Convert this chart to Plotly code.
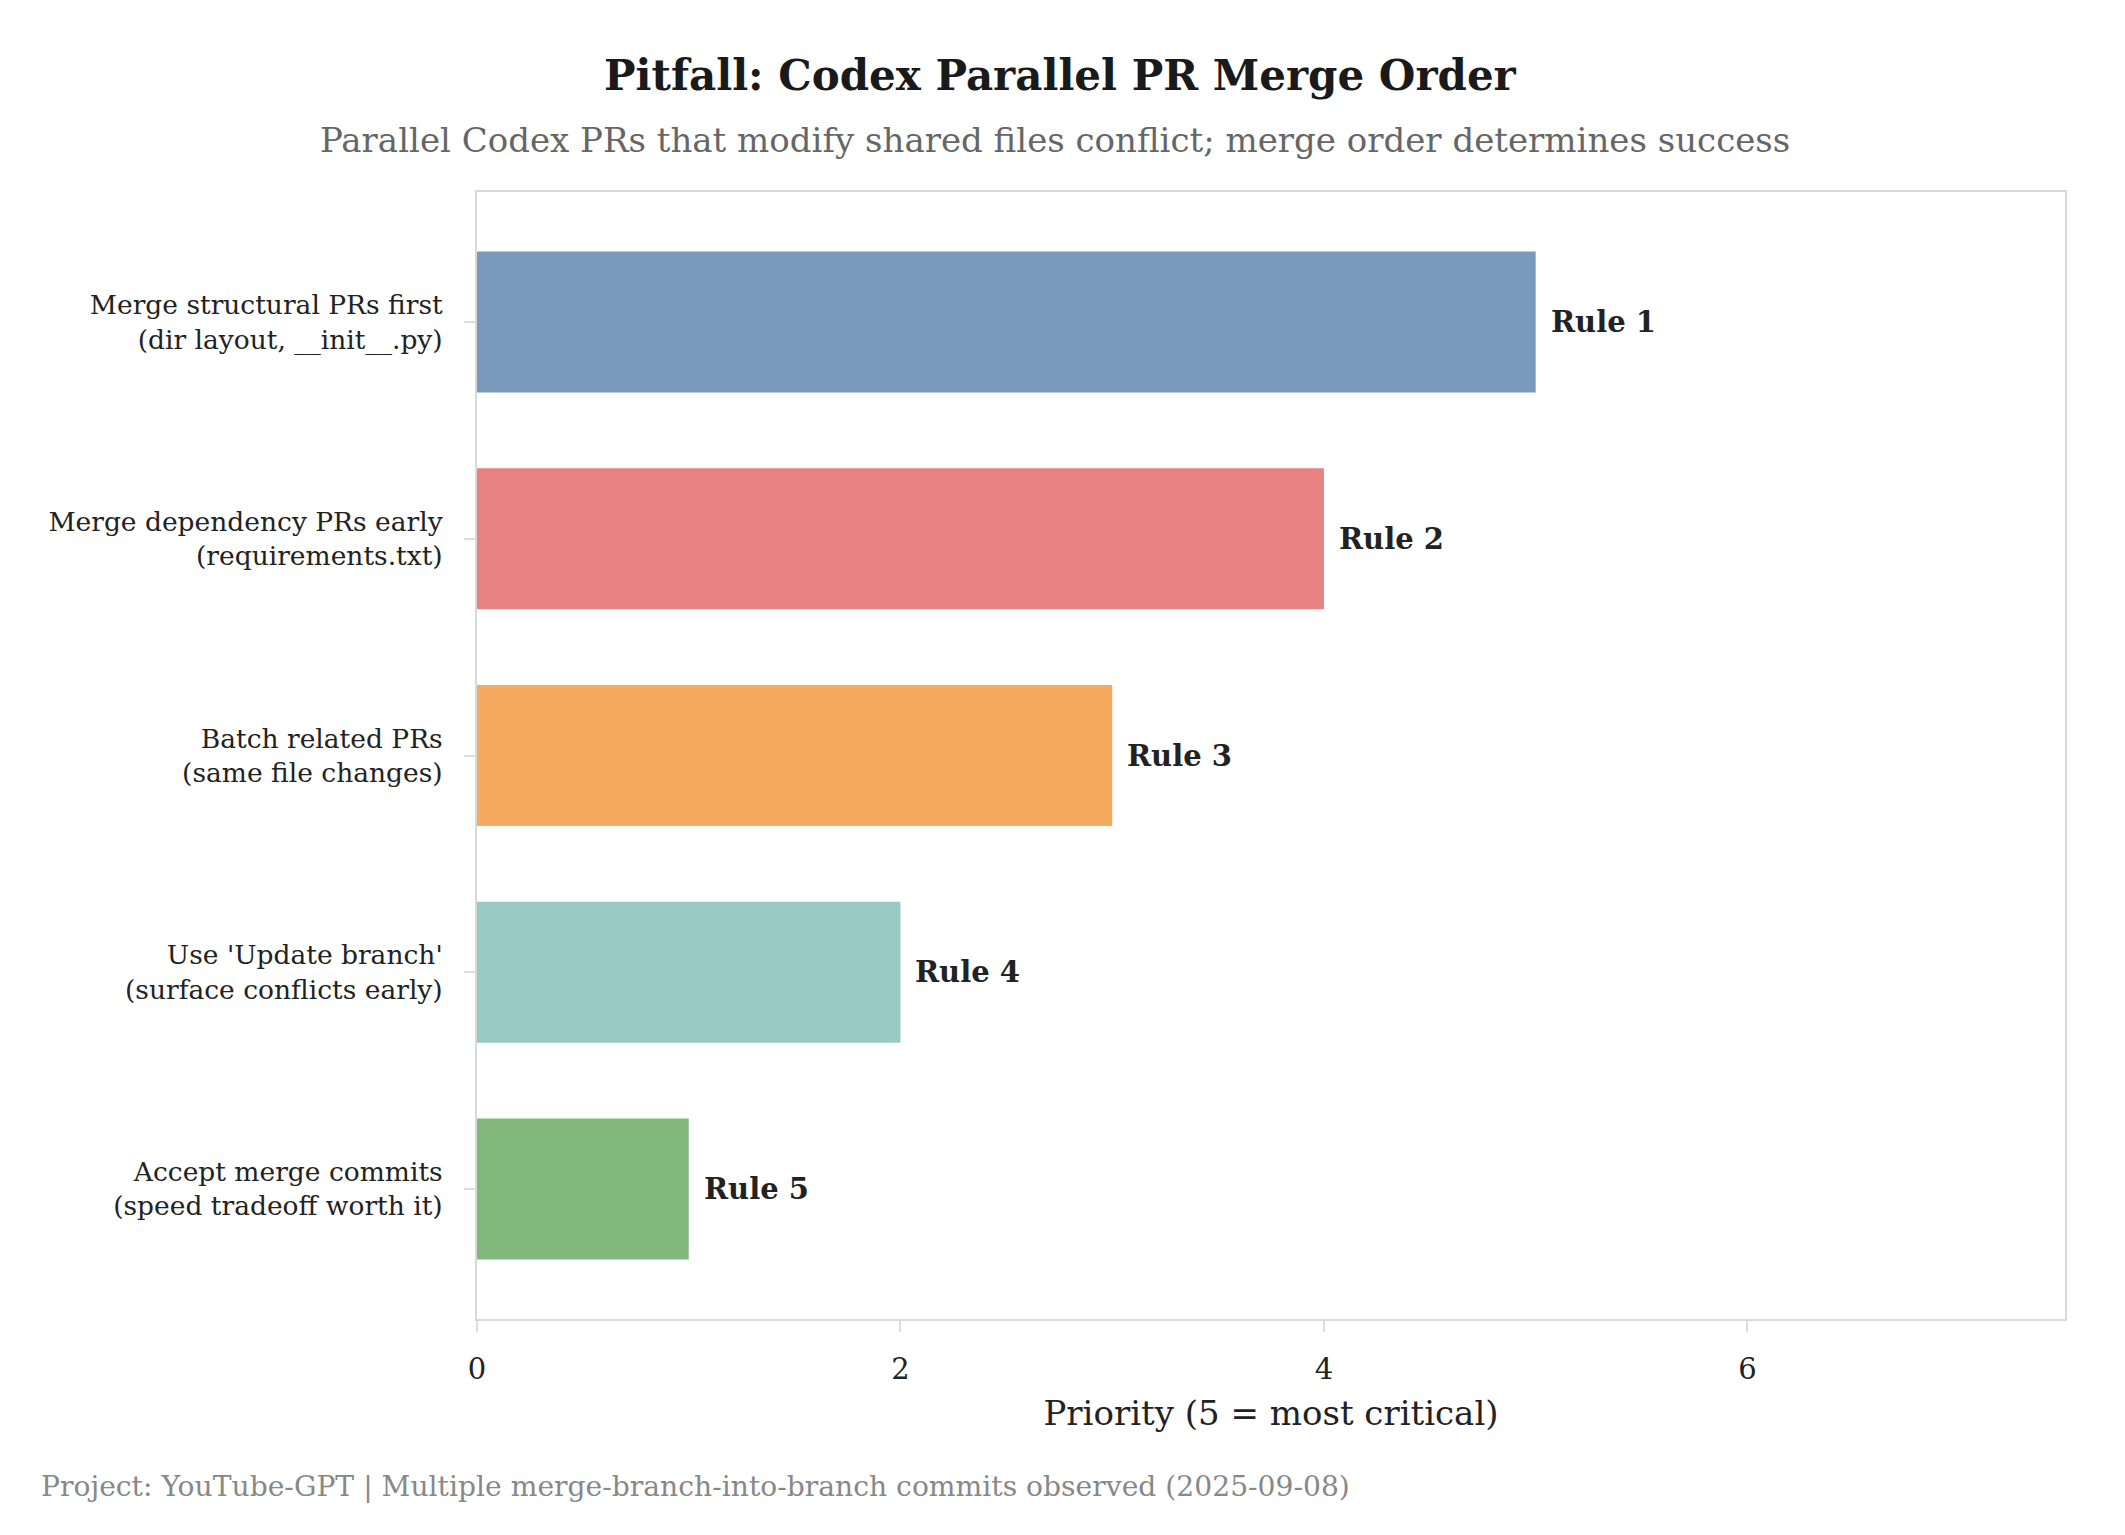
import plotly.graph_objects as go

categories = [
    "Merge structural PRs first<br>(dir layout, __init__.py)",
    "Merge dependency PRs early<br>(requirements.txt)",
    "Batch related PRs<br>(same file changes)",
    "Use 'Update branch'<br>(surface conflicts early)",
    "Accept merge commits<br>(speed tradeoff worth it)",
]
priority = [5, 4, 3, 2, 1]
rule_labels = ["Rule 1", "Rule 2", "Rule 3", "Rule 4", "Rule 5"]
bar_colors = ["#7A9ABD", "#E88182", "#F5AA60", "#98C9C5", "#82B87B"]
x_ticks = [0, 2, 4, 6]

FONT = "DejaVu Serif, Liberation Serif, serif"

fig = go.Figure()
fig.add_trace(go.Bar(
    x=priority,
    y=categories,
    orientation="h",
    width=0.65,
    marker=dict(color=bar_colors, line=dict(width=0)),
    hoverinfo="skip",
    showlegend=False,
))

for v, c, lab in zip(priority, categories, rule_labels):
    fig.add_annotation(
        x=v, y=c, xref="x", yref="y",
        text="<b>" + lab + "</b>",
        showarrow=False, xanchor="left", yanchor="middle", xshift=13,
        font=dict(family=FONT, size=29, color="#222222"),
    )

fig.add_annotation(
    xref="paper", yref="paper", x=0.364, y=1.046,
    text="Parallel Codex PRs that modify shared files conflict; merge order determines success",
    showarrow=False, xanchor="center", yanchor="middle",
    font=dict(family=FONT, size=34, color="#666666"),
)
fig.add_annotation(
    xref="paper", yref="paper", x=-0.276, y=-0.149,
    text="Project: YouTube-GPT | Multiple merge-branch-into-branch commits observed (2025-09-08)",
    showarrow=False, xanchor="left", yanchor="middle",
    font=dict(family=FONT, size=28.2, color="#888888"),
)

fig.update_layout(
    width=2125, height=1535,
    margin=dict(l=469, r=68, t=184, b=224),
    paper_bgcolor="white", plot_bgcolor="white",
    font=dict(family=FONT, color="#222222"),
    title=dict(
        text="<b>Pitfall: Codex Parallel PR Merge Order</b>",
        x=0.495, xanchor="center", xref="container",
        y=1 - 67 / 1535, yanchor="middle", yref="container",
        font=dict(family=FONT, size=42, color="#1a1a1a"),
    ),
)
fig.update_xaxes(
    range=[0, 7.5], tickvals=x_ticks, ticktext=[str(t) for t in x_ticks],
    showgrid=False, zeroline=False,
    showline=True, linecolor="#D9D9D9", linewidth=2, mirror=True,
    ticks="outside", ticklen=11, tickwidth=2, tickcolor="#DDDDDD",
    tickfont=dict(family=FONT, size=29, color="#222222"),
    ticklabelstandoff=12,
    title=dict(text="Priority (5 = most critical)", standoff=16,
               font=dict(family=FONT, size=34, color="#222222")),
)
fig.update_yaxes(
    categoryorder="array", categoryarray=categories,
    range=[4.6, -0.6],
    showgrid=False, zeroline=False,
    showline=True, linecolor="#D9D9D9", linewidth=2, mirror=True,
    ticks="outside", ticklen=11, tickwidth=2, tickcolor="#DDDDDD",
    tickfont=dict(family=FONT, size=26.5, color="#222222"),
    ticklabelstandoff=16,
)

fig.write_html("out.html")
